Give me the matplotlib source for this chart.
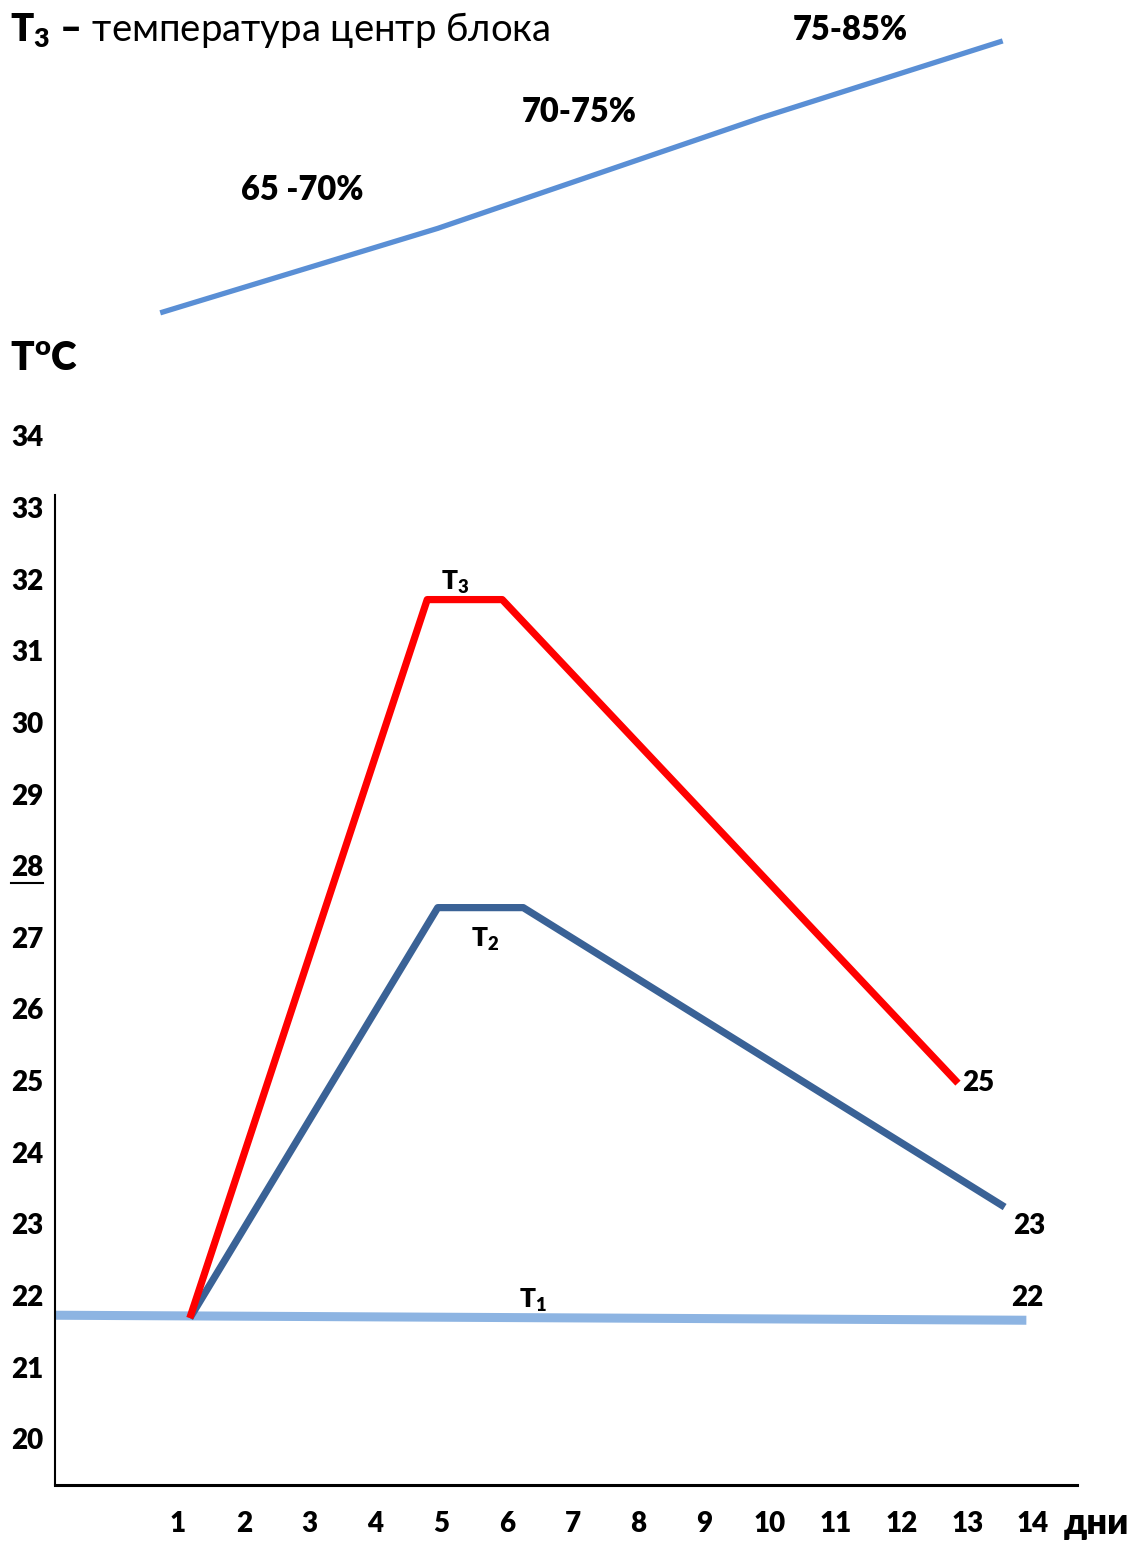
import numpy as np
import matplotlib
matplotlib.use("Agg")
import matplotlib.pyplot as plt
import matplotlib.transforms as mtransforms
from matplotlib.lines import Line2D

plt.rcParams["font.family"] = ["Lato", "DejaVu Sans"]
plt.rcParams["mathtext.fontset"] = "custom"
plt.rcParams["mathtext.rm"] = "Lato"
plt.rcParams["mathtext.bf"] = "Lato:heavy"
plt.rcParams["mathtext.it"] = "Lato:italic"

# ── data ──────────────────────────────────────────────────────────────────────
days       = np.arange(1, 15)
temp_ticks = np.arange(20, 35)

# T3 – centre of the block
t3_day  = [1.18, 4.79, 5.93, 12.86]
t3_temp = [21.72, 31.75, 31.75, 25.0]
# T2
t2_day  = [1.18, 4.95, 6.25, 13.57]
t2_temp = [21.72, 27.45, 27.45, 23.27]
# T1 – ambient
t1_day  = [-0.87, 13.90]
t1_temp = [21.76, 21.69]

# strength curve on top (relative units)
str_day   = [0.73, 4.95, 9.88, 13.54]
str_level = [61.3, 67.7, 76.1, 81.9]
str_labels = ["65 -70%", "70-75%", "75-85%"]
str_lab_day   = [2.89, 7.10, 11.22]
str_lab_level = [70.6, 76.5, 82.7]

C_T3  = "#FF0000"
C_T2  = "#3A6296"
C_T1  = "#8DB4E2"
C_STR = "#5A8FD5"

# ── figure ────────────────────────────────────────────────────────────────────
fig = plt.figure(figsize=(11.4, 15.41), dpi=100)
W, H = 1140, 1541

ax = fig.add_axes([55 / W, 1 - 1485 / H, (1077 - 55) / W, (1485 - 495) / H])
ax.set_xlim(-0.87, 14.67)
ax.set_ylim(19.39, 33.21)
for s in ("top", "right"):
    ax.spines[s].set_visible(False)
ax.spines["left"].set_linewidth(1.5)
ax.spines["bottom"].set_linewidth(2.2)
ax.set_xticks([])
ax.set_yticks([])

ax.plot(t1_day, t1_temp, color=C_T1, lw=6.5, solid_capstyle="butt")
ax.plot(t2_day, t2_temp, color=C_T2, lw=5.2, solid_capstyle="butt")
ax.plot(t3_day, t3_temp, color=C_T3, lw=5.2, solid_capstyle="butt")

bold = dict(fontweight="heavy", fontsize=20, color="black")

# y tick labels (left of the axis)
ytr = mtransforms.blended_transform_factory(fig.transFigure, ax.transData)
under = None
for t in temp_ticks:
    txt = ax.text(11 / W, t, str(t), transform=ytr, ha="left", va="center",
                  clip_on=False, **bold)
    if t == 28:
        under = txt

# x tick labels
xtr = mtransforms.blended_transform_factory(ax.transData, fig.transFigure)
for d in days:
    ax.text(d, 1 - 1524 / H, str(d), transform=xtr, ha="center", va="center",
            clip_on=False, **bold)
ax.text(14.47, 1 - 1524 / H, "дни", transform=xtr, ha="left", va="center",
        clip_on=False, fontweight="heavy", fontsize=26)

# series labels
ax.text(5.21, 31.99, r"$\mathbf{T_3}$", ha="center", va="center", fontsize=19)
ax.text(5.67, 27.0, r"$\mathbf{T_2}$", ha="center", va="center", fontsize=19)
ax.text(6.40, 21.97, r"$\mathbf{T_1}$", ha="center", va="center", fontsize=19)
ax.text(13.16, 25.0, "25", ha="center", va="center", **bold)
ax.text(13.94, 23.0, "23", ha="center", va="center", **bold)
ax.text(13.91, 22.0, "22", ha="center", va="center", **bold)

# T°C
fig.text(10 / W, 1 - 360 / H, r"$\mathbf{T^{o}C}$", ha="left", va="center",
         fontsize=28)

# ── top strength curve ────────────────────────────────────────────────────────
axt = fig.add_axes([55 / W, 1 - 330 / H, (1077 - 55) / W, 330 / H])
axt.set_xlim(-0.87, 14.67)
axt.set_ylim(60, 85)
axt.axis("off")
axt.plot(str_day, str_level, color=C_STR, lw=3.8, solid_capstyle="butt")
for lab, d, lv in zip(str_labels, str_lab_day, str_lab_level):
    axt.text(d, lv, lab, ha="center", va="center", fontweight="heavy",
             fontsize=23.5, clip_on=False)

fig.text(10 / W, 1 - 30 / H, r"$\mathbf{T_3}$ $\mathbf{–}$ температура центр блока",
         ha="left", va="center", fontsize=27.5)

# underline the "28" label
fig.canvas.draw()
bb = under.get_window_extent().transformed(fig.transFigure.inverted())
fig.add_artist(Line2D([bb.x0, bb.x1], [bb.y0 - 0.001, bb.y0 - 0.001],
                      transform=fig.transFigure, color="black", lw=1.5))

fig.savefig("out.png", dpi=100)
